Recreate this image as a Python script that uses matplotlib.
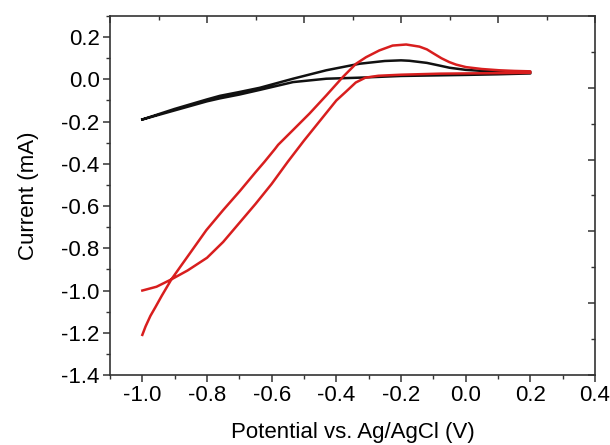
import numpy as np
import matplotlib
matplotlib.use("Agg")
import matplotlib.pyplot as plt
from matplotlib.ticker import MultipleLocator, NullFormatter

plt.rcParams['font.family'] = ['Liberation Sans', 'DejaVu Sans']

# Black CV loop (potential V, current mA)
black_fwd_x = [-1.0, -0.9, -0.8, -0.76, -0.7, -0.637, -0.534, -0.431, -0.328, -0.25, -0.2, -0.174, -0.12, -0.08, -0.05, 0.0, 0.05, 0.1, 0.2]
black_fwd_y = [-0.19, -0.14, -0.095, -0.078, -0.06, -0.04, 0.003, 0.043, 0.074, 0.087, 0.09, 0.088, 0.078, 0.065, 0.055, 0.045, 0.04, 0.037, 0.035]
black_rev_x = [0.2, 0.1, 0.0, -0.081, -0.2, -0.328, -0.431, -0.534, -0.637, -0.7, -0.76, -0.8, -0.9, -1.0]
black_rev_y = [0.028, 0.024, 0.021, 0.019, 0.016, 0.008, 0.003, -0.013, -0.05, -0.072, -0.09, -0.104, -0.147, -0.19]

# Red CV loop
red_fwd_x = [-1.0, -0.99, -0.975, -0.96, -0.94, -0.91, -0.88, -0.853, -0.802, -0.75, -0.699, -0.65, -0.622, -0.59, -0.58, -0.534,
             -0.483, -0.431, -0.38, -0.339, -0.308, -0.267, -0.226, -0.184, -0.143, -0.12, -0.102, -0.075, -0.051, -0.03, 0.001, 0.05, 0.104, 0.15, 0.2]
red_fwd_y = [-1.21, -1.17, -1.12, -1.08, -1.025, -0.947, -0.882, -0.824, -0.714, -0.619, -0.53, -0.44, -0.39, -0.33, -0.31, -0.24,
             -0.162, -0.076, 0.011, 0.074, 0.105, 0.137, 0.16, 0.165, 0.155, 0.142, 0.125, 0.1, 0.082, 0.07, 0.058, 0.049, 0.043, 0.04, 0.038]
red_rev_x = [0.2, -0.08, -0.2, -0.27, -0.31, -0.34, -0.37, -0.4, -0.45, -0.5, -0.55, -0.6, -0.65, -0.7, -0.75, -0.8, -0.86, -0.91, -0.956, -1.0]
red_rev_y = [0.031, 0.027, 0.022, 0.017, 0.008, -0.015, -0.058, -0.1, -0.195, -0.29, -0.39, -0.495, -0.59, -0.68, -0.77, -0.845, -0.905, -0.947, -0.982, -1.0]

fig = plt.figure(figsize=(6.10, 4.45), dpi=100)
ax = fig.add_axes([110/610, 70/445, 485/610, 359/445])

ax.plot(black_fwd_x + black_rev_x, black_fwd_y + black_rev_y, color='#111111', lw=1.8,
        solid_joinstyle='round')
ax.plot(red_fwd_x + red_rev_x, red_fwd_y + red_rev_y, color='#d81e1e', lw=1.8,
        solid_joinstyle='round')

ax.set_xlim(-1.1, 0.4)
ax.set_ylim(-1.4, 0.3)
xt = np.round(np.arange(-1.0, 0.41, 0.2), 1)
yt = np.round(np.arange(-1.4, 0.21, 0.2), 1)
ax.set_xticks(xt)
ax.set_yticks(yt)
ax.set_xticklabels([f"{v:.1f}".replace("-0.0", "0.0") for v in xt])
ax.set_yticklabels([f"{v:.1f}".replace("-0.0", "0.0") for v in yt])
ax.xaxis.set_minor_locator(MultipleLocator(0.1))
ax.yaxis.set_minor_locator(MultipleLocator(0.1))

spine_c = '#333333'
for s in ax.spines.values():
    s.set_color(spine_c)
    s.set_linewidth(1.2)
ax.tick_params(which='major', direction='out', length=5, width=1.1, color=spine_c,
               labelsize=16, pad=2.5, top=False, right=False)
ax.tick_params(which='minor', direction='out', length=3, width=1.0, color=spine_c,
               top=False, right=False)

# top and right frame ticks (independent scales, inward)
axt = ax.twiny()
axt.set_xlim(0, 1.0)
axt.xaxis.set_major_locator(MultipleLocator(0.2))
axt.xaxis.set_minor_locator(MultipleLocator(0.1))
axt.xaxis.set_major_formatter(NullFormatter())
axt.tick_params(which='major', direction='in', length=5, width=1.1, color=spine_c)
axt.tick_params(which='minor', direction='in', length=3, width=1.0, color=spine_c)
axr = ax.twinx()
axr.set_ylim(0, 1.0)
axr.yaxis.set_major_locator(MultipleLocator(0.2))
axr.yaxis.set_minor_locator(MultipleLocator(0.1))
axr.yaxis.set_major_formatter(NullFormatter())
axr.tick_params(which='major', direction='in', length=5, width=1.1, color=spine_c)
axr.tick_params(which='minor', direction='in', length=3, width=1.0, color=spine_c)
for a in (axt, axr):
    for s in a.spines.values():
        s.set_visible(False)

ax.set_xlabel('Potential vs. Ag/AgCl (V)', fontsize=16, labelpad=11)
ax.set_ylabel('Current (mA)', fontsize=16, labelpad=16)

fig.savefig('out.png', dpi=100)
